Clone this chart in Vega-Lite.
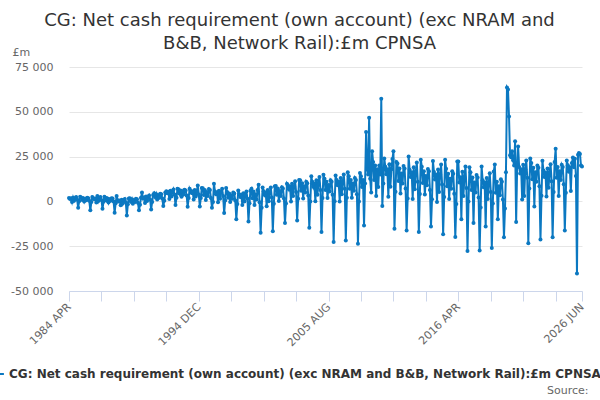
{
  "$schema": "https://vega.github.io/schema/vega-lite/v6.json",
  "width": 513,
  "height": 224,
  "autosize": "none",
  "padding": {"left": 69, "top": 67, "right": 18, "bottom": 109},
  "background": "white",
  "config": {"view": {"stroke": null}, "font": "DejaVu Sans"},
  "title": {
    "text": ["CG: Net cash requirement (own account) (exc NRAM and", "B&B, Network Rail):£m CPNSA"],
    "anchor": "middle",
    "fontSize": 18,
    "fontWeight": "normal",
    "color": "#333333",
    "font": "DejaVu Sans",
    "lineHeight": 23,
    "dx": -26,
    "offset": -7
  },
  "data": {"values": [
    {"m":"1984-04","v":1900},{"m":"1984-05","v":1300},{"m":"1984-06","v":1700},{"m":"1984-07","v":-300},{"m":"1984-08","v":2100},{"m":"1984-09","v":400},{"m":"1984-10","v":1700},{"m":"1984-11","v":2400},{"m":"1984-12","v":1000},{"m":"1985-01","v":-3500},{"m":"1985-02","v":100},{"m":"1985-03","v":2600},
    {"m":"1985-04","v":2200},{"m":"1985-05","v":900},{"m":"1985-06","v":1800},{"m":"1985-07","v":-100},{"m":"1985-08","v":1500},{"m":"1985-09","v":700},{"m":"1985-10","v":2000},{"m":"1985-11","v":1800},{"m":"1985-12","v":300},{"m":"1986-01","v":-5000},{"m":"1986-02","v":-400},{"m":"1986-03","v":2400},
    {"m":"1986-04","v":1800},{"m":"1986-05","v":1200},{"m":"1986-06","v":1600},{"m":"1986-07","v":-600},{"m":"1986-08","v":3000},{"m":"1986-09","v":200},{"m":"1986-10","v":1600},{"m":"1986-11","v":2400},{"m":"1986-12","v":800},{"m":"1987-01","v":-4100},{"m":"1987-02","v":-200},{"m":"1987-03","v":2600},
    {"m":"1987-04","v":2100},{"m":"1987-05","v":500},{"m":"1987-06","v":1600},{"m":"1987-07","v":-600},{"m":"1987-08","v":1200},{"m":"1987-09","v":300},{"m":"1987-10","v":1800},{"m":"1987-11","v":1600},{"m":"1987-12","v":-100},{"m":"1988-01","v":-6300},{"m":"1988-02","v":-1000},{"m":"1988-03","v":3000},
    {"m":"1988-04","v":700},{"m":"1988-05","v":0},{"m":"1988-06","v":500},{"m":"1988-07","v":-2100},{"m":"1988-08","v":900},{"m":"1988-09","v":-1200},{"m":"1988-10","v":500},{"m":"1988-11","v":1400},{"m":"1988-12","v":-500},{"m":"1989-01","v":-7800},{"m":"1989-02","v":-1600},{"m":"1989-03","v":1600},
    {"m":"1989-04","v":1700},{"m":"1989-05","v":-100},{"m":"1989-06","v":1200},{"m":"1989-07","v":-1300},{"m":"1989-08","v":700},{"m":"1989-09","v":-300},{"m":"1989-10","v":1500},{"m":"1989-11","v":1200},{"m":"1989-12","v":-800},{"m":"1990-01","v":-5000},{"m":"1990-02","v":-1800},{"m":"1990-03","v":2000},
    {"m":"1990-04","v":5000},{"m":"1990-05","v":1600},{"m":"1990-06","v":2200},{"m":"1990-07","v":-900},{"m":"1990-08","v":2800},{"m":"1990-09","v":200},{"m":"1990-10","v":2200},{"m":"1990-11","v":3300},{"m":"1990-12","v":1100},{"m":"1991-01","v":-4500},{"m":"1991-02","v":-300},{"m":"1991-03","v":3600},
    {"m":"1991-04","v":4600},{"m":"1991-05","v":2500},{"m":"1991-06","v":4000},{"m":"1991-07","v":1000},{"m":"1991-08","v":3400},{"m":"1991-09","v":2200},{"m":"1991-10","v":4300},{"m":"1991-11","v":4000},{"m":"1991-12","v":1600},{"m":"1992-01","v":-2500},{"m":"1992-02","v":400},{"m":"1992-03","v":4900},
    {"m":"1992-04","v":5600},{"m":"1992-05","v":4600},{"m":"1992-06","v":5300},{"m":"1992-07","v":1400},{"m":"1992-08","v":6000},{"m":"1992-09","v":2800},{"m":"1992-10","v":5300},{"m":"1992-11","v":6700},{"m":"1992-12","v":3900},{"m":"1993-01","v":-2000},{"m":"1993-02","v":2100},{"m":"1993-03","v":7000},
    {"m":"1993-04","v":6800},{"m":"1993-05","v":4400},{"m":"1993-06","v":6100},{"m":"1993-07","v":2600},{"m":"1993-08","v":5400},{"m":"1993-09","v":4000},{"m":"1993-10","v":6500},{"m":"1993-11","v":6100},{"m":"1993-12","v":3300},{"m":"1994-01","v":-3000},{"m":"1994-02","v":1900},{"m":"1994-03","v":7100},
    {"m":"1994-04","v":5900},{"m":"1994-05","v":4700},{"m":"1994-06","v":5500},{"m":"1994-07","v":1100},{"m":"1994-08","v":6300},{"m":"1994-09","v":2700},{"m":"1994-10","v":5500},{"m":"1994-11","v":8900},{"m":"1994-12","v":3900},{"m":"1995-01","v":-2800},{"m":"1995-02","v":1900},{"m":"1995-03","v":7500},
    {"m":"1995-04","v":7400},{"m":"1995-05","v":3600},{"m":"1995-06","v":6300},{"m":"1995-07","v":800},{"m":"1995-08","v":5200},{"m":"1995-09","v":3000},{"m":"1995-10","v":6900},{"m":"1995-11","v":6300},{"m":"1995-12","v":1900},{"m":"1996-01","v":-3500},{"m":"1996-02","v":-300},{"m":"1996-03","v":9900},
    {"m":"1996-04","v":5500},{"m":"1996-05","v":4000},{"m":"1996-06","v":5000},{"m":"1996-07","v":-500},{"m":"1996-08","v":6000},{"m":"1996-09","v":1500},{"m":"1996-10","v":5000},{"m":"1996-11","v":7000},{"m":"1996-12","v":3000},{"m":"1997-01","v":-6500},{"m":"1997-02","v":500},{"m":"1997-03","v":7500},
    {"m":"1997-04","v":5300},{"m":"1997-05","v":2000},{"m":"1997-06","v":4400},{"m":"1997-07","v":-400},{"m":"1997-08","v":3400},{"m":"1997-09","v":1500},{"m":"1997-10","v":4900},{"m":"1997-11","v":4400},{"m":"1997-12","v":500},{"m":"1998-01","v":-10000},{"m":"1998-02","v":-1400},{"m":"1998-03","v":6100},
    {"m":"1998-04","v":4000},{"m":"1998-05","v":2500},{"m":"1998-06","v":3500},{"m":"1998-07","v":-2000},{"m":"1998-08","v":4500},{"m":"1998-09","v":0},{"m":"1998-10","v":3500},{"m":"1998-11","v":5500},{"m":"1998-12","v":1500},{"m":"1999-01","v":-11200},{"m":"1999-02","v":-1000},{"m":"1999-03","v":6000},
    {"m":"1999-04","v":7000},{"m":"1999-05","v":1800},{"m":"1999-06","v":5500},{"m":"1999-07","v":-2000},{"m":"1999-08","v":4000},{"m":"1999-09","v":1000},{"m":"1999-10","v":6300},{"m":"1999-11","v":9300},{"m":"1999-12","v":-500},{"m":"2000-01","v":-17500},{"m":"2000-02","v":-3500},{"m":"2000-03","v":7700},
    {"m":"2000-04","v":5700},{"m":"2000-05","v":3600},{"m":"2000-06","v":5000},{"m":"2000-07","v":-2700},{"m":"2000-08","v":6400},{"m":"2000-09","v":100},{"m":"2000-10","v":5000},{"m":"2000-11","v":7800},{"m":"2000-12","v":2200},{"m":"2001-01","v":-16600},{"m":"2001-02","v":-1300},{"m":"2001-03","v":8500},
    {"m":"2001-04","v":8600},{"m":"2001-05","v":3700},{"m":"2001-06","v":7200},{"m":"2001-07","v":200},{"m":"2001-08","v":5800},{"m":"2001-09","v":3000},{"m":"2001-10","v":7900},{"m":"2001-11","v":7200},{"m":"2001-12","v":1600},{"m":"2002-01","v":-12100},{"m":"2002-02","v":-1200},{"m":"2002-03","v":9900},
    {"m":"2002-04","v":9000},{"m":"2002-05","v":6800},{"m":"2002-06","v":8300},{"m":"2002-07","v":0},{"m":"2002-08","v":9800},{"m":"2002-09","v":3000},{"m":"2002-10","v":8300},{"m":"2002-11","v":11300},{"m":"2002-12","v":5300},{"m":"2003-01","v":-10600},{"m":"2003-02","v":1500},{"m":"2003-03","v":12000},
    {"m":"2003-04","v":11800},{"m":"2003-05","v":5900},{"m":"2003-06","v":10100},{"m":"2003-07","v":1600},{"m":"2003-08","v":8400},{"m":"2003-09","v":5000},{"m":"2003-10","v":11000},{"m":"2003-11","v":10100},{"m":"2003-12","v":3300},{"m":"2004-01","v":-14700},{"m":"2004-02","v":-100},{"m":"2004-03","v":14000},
    {"m":"2004-04","v":10900},{"m":"2004-05","v":8200},{"m":"2004-06","v":10000},{"m":"2004-07","v":100},{"m":"2004-08","v":11800},{"m":"2004-09","v":3700},{"m":"2004-10","v":10000},{"m":"2004-11","v":13600},{"m":"2004-12","v":6400},{"m":"2005-01","v":-17100},{"m":"2005-02","v":1900},{"m":"2005-03","v":14900},
    {"m":"2005-04","v":12700},{"m":"2005-05","v":6400},{"m":"2005-06","v":10900},{"m":"2005-07","v":1900},{"m":"2005-08","v":9100},{"m":"2005-09","v":5500},{"m":"2005-10","v":11800},{"m":"2005-11","v":10900},{"m":"2005-12","v":3700},{"m":"2006-01","v":-22700},{"m":"2006-02","v":100},{"m":"2006-03","v":14500},
    {"m":"2006-04","v":12000},{"m":"2006-05","v":9000},{"m":"2006-06","v":11000},{"m":"2006-07","v":0},{"m":"2006-08","v":13000},{"m":"2006-09","v":4000},{"m":"2006-10","v":11000},{"m":"2006-11","v":15000},{"m":"2006-12","v":7000},{"m":"2007-01","v":-21800},{"m":"2007-02","v":2000},{"m":"2007-03","v":16300},
    {"m":"2007-04","v":14000},{"m":"2007-05","v":7000},{"m":"2007-06","v":12000},{"m":"2007-07","v":2000},{"m":"2007-08","v":10000},{"m":"2007-09","v":6000},{"m":"2007-10","v":13000},{"m":"2007-11","v":12000},{"m":"2007-12","v":4000},{"m":"2008-01","v":-23600},{"m":"2008-02","v":0},{"m":"2008-03","v":15800},
    {"m":"2008-04","v":14000},{"m":"2008-05","v":8000},{"m":"2008-06","v":12000},{"m":"2008-07","v":-13400},{"m":"2008-08","v":10000},{"m":"2008-09","v":38700},{"m":"2008-10","v":18000},{"m":"2008-11","v":15000},{"m":"2008-12","v":46700},{"m":"2009-01","v":12700},{"m":"2009-02","v":5000},{"m":"2009-03","v":28000},
    {"m":"2009-04","v":22000},{"m":"2009-05","v":12000},{"m":"2009-06","v":20000},{"m":"2009-07","v":3000},{"m":"2009-08","v":18000},{"m":"2009-09","v":8000},{"m":"2009-10","v":20000},{"m":"2009-11","v":15000},{"m":"2009-12","v":57300},{"m":"2010-01","v":-2600},{"m":"2010-02","v":10000},{"m":"2010-03","v":24000},
    {"m":"2010-04","v":19400},{"m":"2010-05","v":15200},{"m":"2010-06","v":18000},{"m":"2010-07","v":2600},{"m":"2010-08","v":20800},{"m":"2010-09","v":8200},{"m":"2010-10","v":18000},{"m":"2010-11","v":23600},{"m":"2010-12","v":28000},{"m":"2011-01","v":-15200},{"m":"2011-02","v":5400},{"m":"2011-03","v":22000},
    {"m":"2011-04","v":21200},{"m":"2011-05","v":11400},{"m":"2011-06","v":18400},{"m":"2011-07","v":4400},{"m":"2011-08","v":15600},{"m":"2011-09","v":10000},{"m":"2011-10","v":19800},{"m":"2011-11","v":18400},{"m":"2011-12","v":7200},{"m":"2012-01","v":-16200},{"m":"2012-02","v":1600},{"m":"2012-03","v":25100},
    {"m":"2012-04","v":17600},{"m":"2012-05","v":13600},{"m":"2012-06","v":16300},{"m":"2012-07","v":1400},{"m":"2012-08","v":19000},{"m":"2012-09","v":6800},{"m":"2012-10","v":16300},{"m":"2012-11","v":21700},{"m":"2012-12","v":10900},{"m":"2013-01","v":-17100},{"m":"2013-02","v":4100},{"m":"2013-03","v":23300},
    {"m":"2013-04","v":19400},{"m":"2013-05","v":10300},{"m":"2013-06","v":16800},{"m":"2013-07","v":3800},{"m":"2013-08","v":14200},{"m":"2013-09","v":9000},{"m":"2013-10","v":18100},{"m":"2013-11","v":16800},{"m":"2013-12","v":6400},{"m":"2014-01","v":-14000},{"m":"2014-02","v":1200},{"m":"2014-03","v":22500},
    {"m":"2014-04","v":16400},{"m":"2014-05","v":12200},{"m":"2014-06","v":15000},{"m":"2014-07","v":-400},{"m":"2014-08","v":17800},{"m":"2014-09","v":5200},{"m":"2014-10","v":15000},{"m":"2014-11","v":20600},{"m":"2014-12","v":9400},{"m":"2015-01","v":-18400},{"m":"2015-02","v":2400},{"m":"2015-03","v":23300},
    {"m":"2015-04","v":18200},{"m":"2015-05","v":8400},{"m":"2015-06","v":15400},{"m":"2015-07","v":1400},{"m":"2015-08","v":12600},{"m":"2015-09","v":7000},{"m":"2015-10","v":16800},{"m":"2015-11","v":15400},{"m":"2015-12","v":4200},{"m":"2016-01","v":-19900},{"m":"2016-02","v":-1400},{"m":"2016-03","v":22300},
    {"m":"2016-04","v":22300},{"m":"2016-05","v":10500},{"m":"2016-06","v":13500},{"m":"2016-07","v":-10000},{"m":"2016-08","v":16500},{"m":"2016-09","v":3000},{"m":"2016-10","v":13500},{"m":"2016-11","v":19500},{"m":"2016-12","v":7500},{"m":"2017-01","v":-27700},{"m":"2017-02","v":0},{"m":"2017-03","v":19000},
    {"m":"2017-04","v":16200},{"m":"2017-05","v":6400},{"m":"2017-06","v":13400},{"m":"2017-07","v":-12000},{"m":"2017-08","v":10600},{"m":"2017-09","v":5000},{"m":"2017-10","v":14800},{"m":"2017-11","v":13400},{"m":"2017-12","v":2200},{"m":"2018-01","v":-27400},{"m":"2018-02","v":-3400},{"m":"2018-03","v":19500},
    {"m":"2018-04","v":11800},{"m":"2018-05","v":7900},{"m":"2018-06","v":10500},{"m":"2018-07","v":-14000},{"m":"2018-08","v":13100},{"m":"2018-09","v":1400},{"m":"2018-10","v":10500},{"m":"2018-11","v":15700},{"m":"2018-12","v":5300},{"m":"2019-01","v":-26000},{"m":"2019-02","v":-1200},{"m":"2019-03","v":16700},
    {"m":"2019-04","v":20600},{"m":"2019-05","v":4800},{"m":"2019-06","v":11000},{"m":"2019-07","v":-10000},{"m":"2019-08","v":8500},{"m":"2019-09","v":3500},{"m":"2019-10","v":12300},{"m":"2019-11","v":11000},{"m":"2019-12","v":1000},{"m":"2020-01","v":-20000},{"m":"2020-02","v":-4000},{"m":"2020-03","v":16300},
    {"m":"2020-04","v":63500},{"m":"2020-05","v":62500},{"m":"2020-06","v":47400},{"m":"2020-07","v":25700},{"m":"2020-08","v":24700},{"m":"2020-09","v":28000},{"m":"2020-10","v":23000},{"m":"2020-11","v":20000},{"m":"2020-12","v":33600},{"m":"2021-01","v":-11500},{"m":"2021-02","v":20000},{"m":"2021-03","v":30700},
    {"m":"2021-04","v":19200},{"m":"2021-05","v":15600},{"m":"2021-06","v":18000},{"m":"2021-07","v":1000},{"m":"2021-08","v":20400},{"m":"2021-09","v":3000},{"m":"2021-10","v":18000},{"m":"2021-11","v":22800},{"m":"2021-12","v":13200},{"m":"2022-01","v":-23400},{"m":"2022-02","v":7200},{"m":"2022-03","v":24000},
    {"m":"2022-04","v":21400},{"m":"2022-05","v":12300},{"m":"2022-06","v":18800},{"m":"2022-07","v":-2800},{"m":"2022-08","v":16200},{"m":"2022-09","v":11000},{"m":"2022-10","v":20100},{"m":"2022-11","v":18800},{"m":"2022-12","v":8400},{"m":"2023-01","v":-21300},{"m":"2023-02","v":3200},{"m":"2023-03","v":22700},
    {"m":"2023-04","v":17200},{"m":"2023-05","v":13600},{"m":"2023-06","v":16000},{"m":"2023-07","v":2800},{"m":"2023-08","v":18400},{"m":"2023-09","v":7600},{"m":"2023-10","v":16000},{"m":"2023-11","v":20800},{"m":"2023-12","v":11200},{"m":"2024-01","v":-20000},{"m":"2024-02","v":5200},{"m":"2024-03","v":22000},
    {"m":"2024-04","v":29400},{"m":"2024-05","v":13200},{"m":"2024-06","v":19200},{"m":"2024-07","v":3000},{"m":"2024-08","v":16800},{"m":"2024-09","v":12000},{"m":"2024-10","v":20400},{"m":"2024-11","v":19200},{"m":"2024-12","v":9600},{"m":"2025-01","v":-16200},{"m":"2025-02","v":4800},{"m":"2025-03","v":22800},
    {"m":"2025-04","v":20200},{"m":"2025-05","v":16600},{"m":"2025-06","v":19000},{"m":"2025-07","v":5800},{"m":"2025-08","v":21400},{"m":"2025-09","v":24500},{"m":"2025-10","v":19000},{"m":"2025-11","v":23800},{"m":"2025-12","v":14200},{"m":"2026-01","v":-40300},{"m":"2026-02","v":26000},{"m":"2026-03","v":27000},
    {"m":"2026-04","v":26500},{"m":"2026-05","v":20000},{"m":"2026-06","v":19500}
  ]},
  "mark": {"type": "line", "strokeWidth": 2, "point": {"size": 16, "filled": true}},
  "encoding": {
    "x": {
      "field": "m",
      "type": "temporal",
      "scale": {
        "type": "utc",
        "nice": false,
        "domain": [{"year": 1984, "month": 4, "date": 1, "utc": true}, {"year": 2026, "month": 6, "date": 1, "utc": true}]
      },
      "axis": {
        "values": [
          {"year": 1984, "month": 4, "date": 1, "utc": true},
          {"year": 1986, "month": 12, "date": 1, "utc": true},
          {"year": 1989, "month": 8, "date": 1, "utc": true},
          {"year": 1992, "month": 4, "date": 1, "utc": true},
          {"year": 1994, "month": 12, "date": 1, "utc": true},
          {"year": 1997, "month": 8, "date": 1, "utc": true},
          {"year": 2000, "month": 4, "date": 1, "utc": true},
          {"year": 2002, "month": 12, "date": 1, "utc": true},
          {"year": 2005, "month": 8, "date": 1, "utc": true},
          {"year": 2008, "month": 4, "date": 1, "utc": true},
          {"year": 2010, "month": 12, "date": 1, "utc": true},
          {"year": 2013, "month": 8, "date": 1, "utc": true},
          {"year": 2016, "month": 4, "date": 1, "utc": true},
          {"year": 2018, "month": 12, "date": 1, "utc": true},
          {"year": 2021, "month": 8, "date": 1, "utc": true},
          {"year": 2024, "month": 4, "date": 1, "utc": true},
          {"year": 2026, "month": 6, "date": 1, "utc": true}
        ],
        "labelExpr": "indexof(['1984 APR','1994 DEC','2005 AUG','2016 APR','2026 JUN'], upper(utcFormat(datum.value, '%Y %b'))) >= 0 ? upper(utcFormat(datum.value, '%Y %b')) : ''",
        "labelAngle": -45,
        "labelAlign": "right",
        "labelBaseline": "middle",
        "labelOverlap": false,
        "labelFlush": false,
        "labelPadding": 4,
        "labelColor": "#666666",
        "labelFontSize": 11,
        "labelFont": "DejaVu Sans",
        "tickColor": "#ccd6eb",
        "tickSize": 10,
        "domainColor": "#ccd6eb",
        "grid": false,
        "title": "Source:",
        "titleX": 519,
        "titleY": 99,
        "titleAlign": "right",
        "titleBaseline": "middle",
        "titleAnchor": null,
        "titleFontWeight": "normal",
        "titleColor": "#666666",
        "titleFontSize": 11
      }
    },
    "y": {
      "field": "v",
      "type": "quantitative",
      "scale": {"domain": [-50000, 75000], "nice": false, "zero": false},
      "axis": {
        "values": [-50000, -25000, 0, 25000, 50000, 75000],
        "labelExpr": "replace(replace(format(datum.value, ','), ',', ' '), '−', '-')",
        "domain": false,
        "ticks": false,
        "labelPadding": 16,
        "labelColor": "#666666",
        "labelFontSize": 11,
        "gridColor": "#e6e6e6",
        "title": "£m",
        "titleAngle": 0,
        "titleX": -57,
        "titleY": -15,
        "titleAlign": "left",
        "titleBaseline": "middle",
        "titleFontWeight": "normal",
        "titleColor": "#666666",
        "titleFontSize": 11
      }
    },
    "color": {
      "datum": "CG: Net cash requirement (own account) (exc NRAM and B&B, Network Rail):£m CPNSA",
      "scale": {"range": ["#0b78c1"]},
      "legend": {
        "orient": "none",
        "legendX": -82,
        "legendY": 298,
        "title": null,
        "padding": 0,
        "symbolType": "stroke",
        "symbolStrokeWidth": 2,
        "symbolSize": 250,
        "labelFontSize": 12,
        "labelFontWeight": "bold",
        "labelColor": "#333333",
        "labelLimit": 2000,
        "labelOffset": 4
      }
    }
  }
}
